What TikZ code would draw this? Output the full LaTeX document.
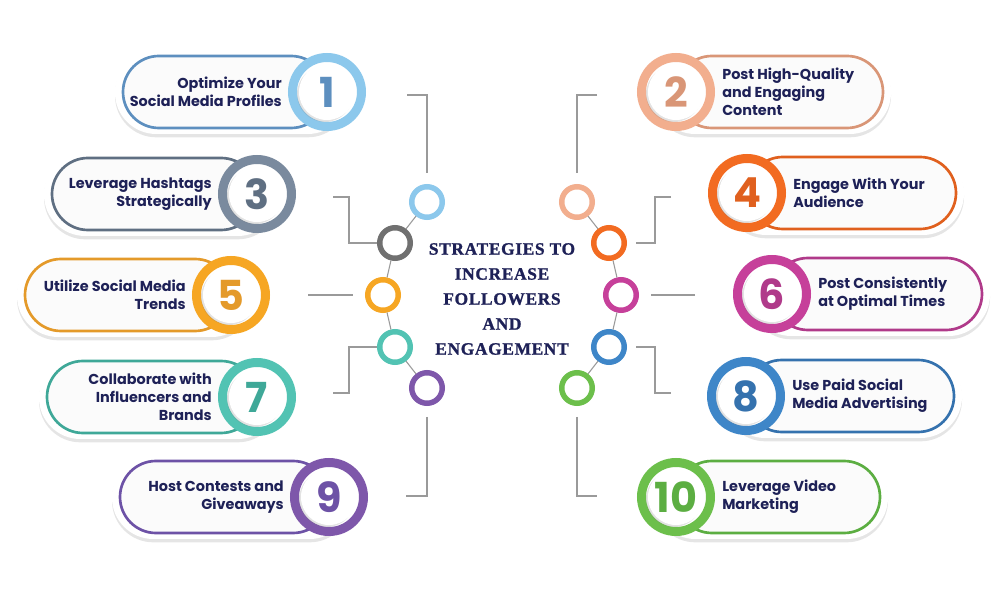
\documentclass[tikz,border=0pt]{standalone}
\usepackage{fontspec}
\setmainfont{Poppins}
\newfontfamily\titlefont{Liberation Serif}[LetterSpace=4, BoldFeatures={FakeBold=1.2}]
\usetikzlibrary{shadows}
\definecolor{navy}{HTML}{1E2157}
\definecolor{ringA}{HTML}{8CC8EC}\definecolor{bordA}{HTML}{5D8FBF}
\definecolor{ringB}{HTML}{F2AE8E}\definecolor{bordB}{HTML}{D99677}
\definecolor{ringC}{HTML}{7A8A9E}\definecolor{bordC}{HTML}{5F6F82}
\definecolor{ringD}{HTML}{F26B21}\definecolor{bordD}{HTML}{E0601E}
\definecolor{ringE}{HTML}{F6A623}\definecolor{bordE}{HTML}{E49A2A}
\definecolor{ringF}{HTML}{C6409A}\definecolor{bordF}{HTML}{B03A8A}
\definecolor{ringG}{HTML}{52C3B3}\definecolor{bordG}{HTML}{3FA898}
\definecolor{ringH}{HTML}{3E86C8}\definecolor{bordH}{HTML}{3572AE}
\definecolor{ringI}{HTML}{7E57AA}\definecolor{bordI}{HTML}{6D52A6}
\definecolor{ringJ}{HTML}{6CBF4B}\definecolor{bordJ}{HTML}{5CAE42}
\definecolor{smallC}{HTML}{707070}
\definecolor{linegray}{HTML}{9A9A9A}
\tikzset{
  conn/.style={draw=linegray, line width=1.2pt},
  chainline/.style={draw=linegray, line width=0.8pt},
  smallring/.style={circle, draw=#1, line width=4.1pt, fill=white, minimum size=22.9pt, inner sep=0pt,
     drop shadow={shadow xshift=0.5pt, shadow yshift=-1pt, opacity=0.15}},
  bigring/.style={circle, draw=#1, line width=6.75pt, fill=white, minimum size=51.75pt, inner sep=0pt,
     drop shadow={shadow xshift=-1pt, shadow yshift=-2pt, opacity=0.25}},
  innerdisc/.style={circle, fill=white, minimum size=42pt, inner sep=0pt,
     drop shadow={shadow xshift=-1.5pt, shadow yshift=-1.5pt, opacity=0.22}},
  numtext/.style={font=\bfseries\fontsize{31}{31}\selectfont, inner sep=0pt},
  itemtext/.style={font=\bfseries\fontsize{10.8}{13.5}\selectfont, text=navy, inner sep=0pt},
  outerpill/.style={fill=white, rounded corners=31pt,
     drop shadow={shadow xshift=0pt, shadow yshift=-2.5pt, opacity=0.2}},
  pill/.style={draw=#1, line width=2pt, fill=gray!3, rounded corners=27pt},
  titletext/.style={font=\titlefont\bfseries\fontsize{13}{18.75}\selectfont, text=navy, align=center, inner sep=0pt}
}
% #1 name, #2 cx, #3 cy, #4 outer x, #5 ring col, #6 border col, #7 number, #8 text
\newcommand\leftitem[8]{%
  \path[outerpill] ({#4-8},{#3-42}) rectangle ({#2+22},{#3+42});
  \path[pill=#6] (#4,{#3-36}) rectangle (#2,{#3+36});
  \node[bigring=#5] (#1) at (#2,#3) {};
  \node[innerdisc] at (#1) {};
  \node[numtext, text=#6] at (#1) {#7};
  \node[itemtext, anchor=east, align=right] (#1t) at ({#2-45},#3) {#8};
}
\newcommand\rightitem[8]{%
  \path[outerpill] ({#2-22},{#3-42}) rectangle ({#4+8},{#3+42});
  \path[pill=#6] (#2,{#3-36}) rectangle (#4,{#3+36});
  \node[bigring=#5] (#1) at (#2,#3) {};
  \node[innerdisc] at (#1) {};
  \node[numtext, text=#6] at (#1) {#7};
  \node[itemtext, anchor=west, align=left] (#1t) at ({#2+46},#3) {#8};
}
\begin{document}
\begin{tikzpicture}[x=0.75pt, y=-0.75pt]
\useasboundingbox (0,0) rectangle (1004,591);
\fill[white] (0,0) rectangle (1004,591);

% items
\leftitem{b1}{327}{92}{123}{ringA}{bordA}{1}{Optimize Your\\Social Media Profiles}
\leftitem{b3}{257}{194}{52}{ringC}{bordC}{3}{Leverage Hashtags\\Strategically}
\leftitem{b5}{231}{295}{25}{ringE}{bordE}{5}{Utilize Social Media\\Trends}
\leftitem{b7}{257}{397}{47}{ringG}{bordG}{7}{Collaborate with\\Influencers and\\Brands}
\leftitem{b9}{329}{497}{120}{ringI}{bordI}{9}{Host Contests and\\Giveaways}

\rightitem{b2}{676}{92}{883}{ringB}{bordB}{2}{Post High-Quality\\and Engaging\\Content}
\rightitem{b4}{747}{193}{956}{ringD}{bordD}{4}{Engage With Your\\Audience}
\rightitem{b6}{772}{294}{982}{ringF}{bordF}{6}{Post Consistently\\at Optimal Times}
\rightitem{b8}{746}{396}{954}{ringH}{bordH}{8}{Use Paid Social\\Media Advertising}
\rightitem{b10}{676}{497}{880}{ringJ}{bordJ}{10}{Leverage Video\\Marketing}

% small rings
\node[smallring=ringA] (r1) at (427,202) {};
\node[smallring=smallC] (r3) at (395,243) {};
\node[smallring=ringE] (r5) at (383,295) {};
\node[smallring=ringG] (r7) at (395,347) {};
\node[smallring=ringI] (r9) at (427,388) {};
\node[smallring=ringB] (r2) at (577,202) {};
\node[smallring=ringD] (r4) at (609,243) {};
\node[smallring=ringF] (r6) at (621,295) {};
\node[smallring=ringH] (r8) at (609,347) {};
\node[smallring=ringJ] (r10) at (577,388) {};

\draw[chainline] (r1) -- (r3) -- (r5) -- (r7) -- (r9);
\draw[chainline] (r2) -- (r4) -- (r6) -- (r8) -- (r10);

% connectors
\coordinate (k1) at (407,95);
\coordinate (k3) at (333,197);
\coordinate (k5) at (308,295);
\coordinate (k7) at (333,393);
\coordinate (k9) at (406,496);
\coordinate (k2) at (597,95);
\coordinate (k4) at (671,197);
\coordinate (k6) at (695,295);
\coordinate (k8) at (671,393);
\coordinate (k10) at (597,496);

\draw[conn, shorten >=8.25pt] (k1) -| (r1.north);
\draw[conn] (k3) -- ++(16,0) |- (r3.west);
\draw[conn, shorten >=9pt] (k5) -- (r5.west);
\draw[conn] (r7.west) -- ++(-28,0) |- (k7);
\draw[conn, shorten <=8.25pt] (r9.south) |- (k9);
\draw[conn, shorten >=8.25pt] (k2) -| (r2.north);
\draw[conn, shorten >=7pt] (k4) -- ++(-16,0) |- (r4.east);
\draw[conn, shorten >=9pt] (k6) -- (r6.east);
\draw[conn, shorten <=7pt] (r8.east) -- ++(28,0) |- (k8);
\draw[conn, shorten <=8.25pt] (r10.south) |- (k10);

% title
\node[titletext] (title) at (502,299) {STRATEGIES TO\\INCREASE\\FOLLOWERS\\AND\\ENGAGEMENT};
\end{tikzpicture}
\end{document}
